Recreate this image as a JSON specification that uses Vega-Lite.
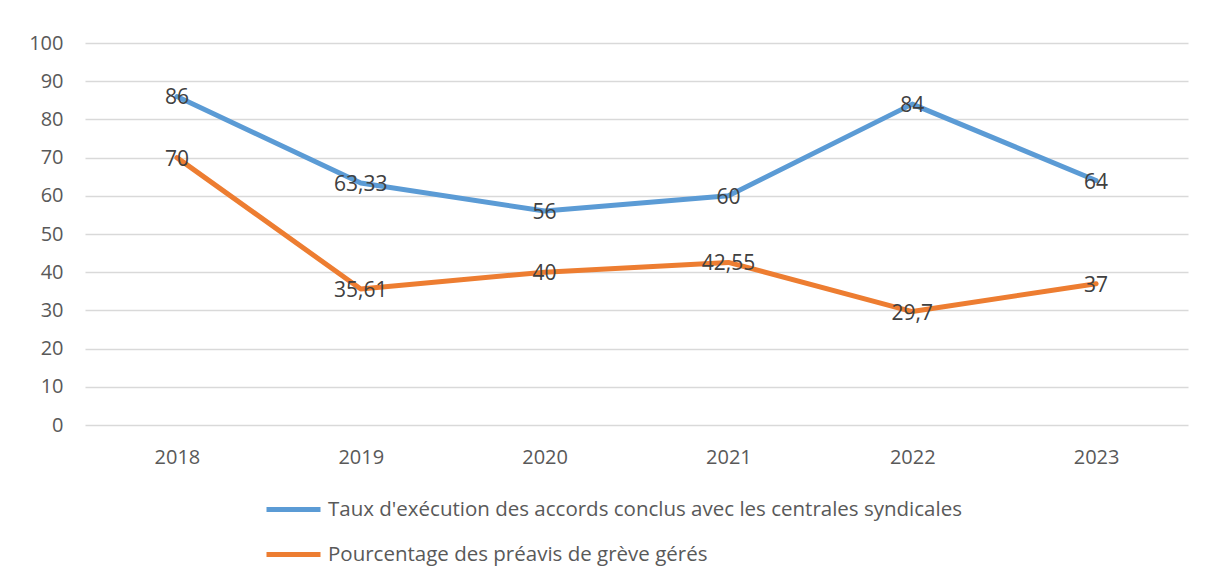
{
  "$schema": "https://vega.github.io/schema/vega-lite/v6.json",
  "autosize": "none",
  "width": 1103,
  "height": 382,
  "padding": {"left": 85, "top": 43, "right": 25, "bottom": 159},
  "background": "white",
  "config": {
    "view": {"stroke": null},
    "font": "Open Sans",
    "locale": {"number": {"decimal": ",", "thousands": " ", "grouping": [3], "currency": ["", " €"]}}
  },
  "data": {"values": [
    {"annee": "2018", "serie": "Taux d'exécution des accords conclus avec les centrales syndicales", "valeur": 86},
    {"annee": "2019", "serie": "Taux d'exécution des accords conclus avec les centrales syndicales", "valeur": 63.33},
    {"annee": "2020", "serie": "Taux d'exécution des accords conclus avec les centrales syndicales", "valeur": 56},
    {"annee": "2021", "serie": "Taux d'exécution des accords conclus avec les centrales syndicales", "valeur": 60},
    {"annee": "2022", "serie": "Taux d'exécution des accords conclus avec les centrales syndicales", "valeur": 84},
    {"annee": "2023", "serie": "Taux d'exécution des accords conclus avec les centrales syndicales", "valeur": 64},
    {"annee": "2018", "serie": "Pourcentage des préavis de grève gérés", "valeur": 70},
    {"annee": "2019", "serie": "Pourcentage des préavis de grève gérés", "valeur": 35.61},
    {"annee": "2020", "serie": "Pourcentage des préavis de grève gérés", "valeur": 40},
    {"annee": "2021", "serie": "Pourcentage des préavis de grève gérés", "valeur": 42.55},
    {"annee": "2022", "serie": "Pourcentage des préavis de grève gérés", "valeur": 29.7},
    {"annee": "2023", "serie": "Pourcentage des préavis de grève gérés", "valeur": 37}
  ]},
  "encoding": {
    "x": {
      "field": "annee", "type": "ordinal",
      "scale": {"type": "point", "padding": 0.5},
      "axis": {"title": null, "labelAngle": 0, "ticks": false, "domain": false, "grid": false,
               "labelFontSize": 20, "labelColor": "#595959", "labelPadding": 22}
    },
    "y": {
      "field": "valeur", "type": "quantitative",
      "scale": {"domain": [0, 100], "nice": false},
      "axis": {"title": null, "values": [0,10,20,30,40,50,60,70,80,90,100], "ticks": false, "domain": false,
               "gridColor": "#d9d9d9", "gridWidth": 1.5,
               "labelFontSize": 20, "labelColor": "#595959", "labelPadding": 22}
    }
  },
  "layer": [
    {
      "mark": {"type": "line", "strokeWidth": 5, "strokeCap": "round", "strokeJoin": "round"},
      "encoding": {
        "color": {
          "field": "serie", "type": "nominal",
          "sort": ["Taux d'exécution des accords conclus avec les centrales syndicales", "Pourcentage des préavis de grève gérés"],
          "scale": {"domain": ["Taux d'exécution des accords conclus avec les centrales syndicales", "Pourcentage des préavis de grève gérés"],
                    "range": ["#5B9BD5", "#ED7D31"]},
          "legend": {
            "title": null, "orient": "none", "legendX": 179, "legendY": 437, "direction": "vertical",
            "symbolType": "stroke", "symbolSize": 2916, "symbolStrokeWidth": 5,
            "labelFontSize": 20.5, "labelColor": "#595959", "labelOffset": 5, "rowPadding": 5,
            "labelLimit": 1000
          }
        }
      }
    },
    {
      "mark": {"type": "text", "fontSize": 21, "color": "#404040", "dy": 2},
      "encoding": {
        "text": {"field": "valeur", "type": "quantitative", "format": "~r"}
      }
    }
  ]
}
